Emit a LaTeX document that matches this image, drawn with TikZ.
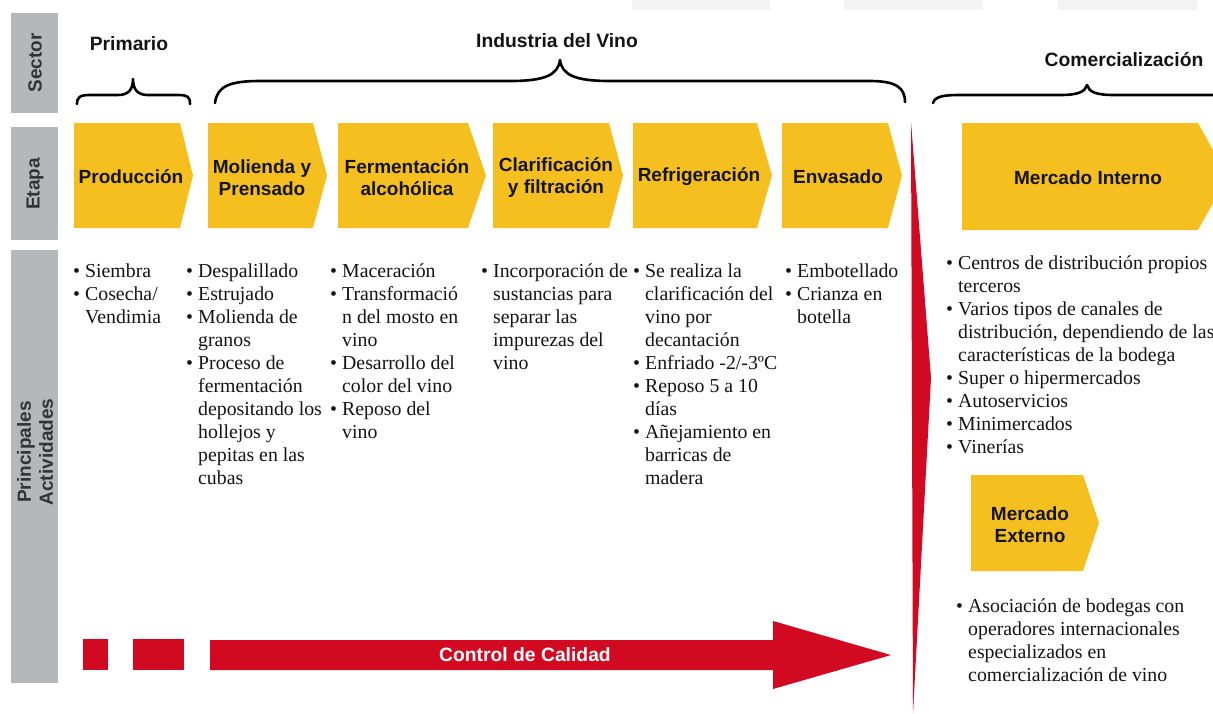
\documentclass[tikz,border=0pt]{standalone}
\usepackage{fontspec}
\setmainfont{Liberation Serif}
\newfontfamily\hsans{Liberation Sans}
\definecolor{chevy}{HTML}{F5BF1F}
\definecolor{redc}{HTML}{D10A22}
\definecolor{sidegray}{HTML}{B5B7B9}
\definecolor{ink}{HTML}{141414}
\definecolor{sideink}{HTML}{333333}
\definecolor{faint}{HTML}{F3F3F3}
\newcommand\bul{\makebox[12pt][l]{\textbullet}}
\newcommand\ind{\hspace*{12pt}}
\begin{document}
\begin{tikzpicture}[x=1pt,y=-1pt,
  chev/.style={fill=chevy, draw=none},
  chevtext/.style={font=\hsans\bfseries\fontsize{19}{22}\selectfont, text=ink, align=center, inner sep=0},
  sidetext/.style={font=\hsans\bfseries\fontsize{19}{22}\selectfont, text=sideink, rotate=90, align=center, inner sep=0},
  acts/.style={font=\fontsize{19.8}{23}\selectfont, text=ink, align=left, anchor=north west, inner sep=0},
  brace/.style={draw=black, line width=2.6pt, line cap=round, line join=round},
  sectortext/.style={font=\hsans\bfseries\fontsize{19.3}{22}\selectfont, text=ink, inner sep=0}]
\useasboundingbox (0,0) rectangle (1213,713);
\fill[white] (0,0) rectangle (1213,713);
% faint top marks
\fill[faint] (632,0) rectangle (770,10);
\fill[faint] (844,0) rectangle (983,10);
\fill[faint] (1058,0) rectangle (1197,10);
% side bars
\fill[sidegray] (11,13) rectangle (58,113);
\fill[sidegray] (11,127) rectangle (58,240);
\fill[sidegray] (11,250) rectangle (58,683);
\node[sidetext] (lsector) at (35,63) {Sector};
\node[sidetext] (letapa) at (35,184) {Etapa};
\node[sidetext] (lact) at (35,452) {Principales\\Actividades};
% sector headings
\node[sectortext] (primario) at (129,44) {Primario};
\node[sectortext] (industria) at (557,41) {Industria del Vino};
\node[sectortext] (comercial) at (1124,60) {Comercialización};
% braces
\draw[brace] (77,104) .. controls (77,97) and (80,95) .. (90,95) -- (118,95) .. controls (128,95) and (133,90) .. (133,79) .. controls (133,90) and (138,95) .. (148,95) -- (178,95) .. controls (188,95) and (190,97) .. (190,104);
\draw[brace] (215,103) .. controls (217,86) and (230,81) .. (260,81) -- (510,81) .. controls (545,81) and (558,75) .. (560,60) .. controls (562,75) and (575,81) .. (610,81) -- (870,81) .. controls (895,81) and (905,87) .. (905,102);
\draw[brace] (933,103) .. controls (935,96) and (945,95) .. (960,95) -- (1060,95) .. controls (1078,95) and (1085,92) .. (1087,85) .. controls (1089,92) and (1096,95) .. (1114,95) -- (1216,95);
% chevrons
\path[chev] (74,123) -- (180,123) -- (193,175.5) -- (180,228) -- (74,228) -- cycle;
\path[chev] (208,123) -- (313,123) -- (327,175.5) -- (313,228) -- (208,228) -- cycle;
\path[chev] (338,123) -- (468,123) -- (486,175.5) -- (468,228) -- (338,228) -- cycle;
\path[chev] (493,123) -- (609,123) -- (623,175.5) -- (609,228) -- (493,228) -- cycle;
\path[chev] (633,123) -- (757,123) -- (772,175.5) -- (757,228) -- (633,228) -- cycle;
\path[chev] (782,123) -- (888,123) -- (902,175.5) -- (888,228) -- (782,228) -- cycle;
\path[chev] (962,123) -- (1198,123) -- (1228,176.5) -- (1198,230) -- (962,230) -- cycle;
\path[chev] (971,475) -- (1083,475) -- (1099,523) -- (1083,571) -- (971,571) -- cycle;
\node[chevtext] (produccion) at (131,177) {Producción};
\node[chevtext] (molienda) at (262,177.5) {Molienda y\\Prensado};
\node[chevtext] (fermentacion) at (407,177.5) {Fermentación\\alcohólica};
\node[chevtext] (clarificacion) at (556,177.5) {Clarificación\\y filtración};
\node[chevtext] (refrigeracion) at (699,177) {Refrigeración};
\node[chevtext] (envasado) at (838,177) {Envasado};
\node[chevtext] (minterno) at (1088,178) {Mercado Interno};
\node[chevtext] (mexterno) at (1030,524.5) {Mercado\\Externo};
% activities
\node[acts] (a1) at (73,260.9) {\strut\bul Siembra\\ \bul Cosecha/\\ \ind Vendimia};
\node[acts] (a2) at (186,260.9) {\strut\bul Despalillado\\ \bul Estrujado\\ \bul Molienda de\\ \ind granos\\ \bul Proceso de\\ \ind fermentación\\ \ind depositando los\\ \ind hollejos y\\ \ind pepitas en las\\ \ind cubas};
\node[acts] (a3) at (330,260.9) {\strut\bul Maceración\\ \bul Transformació\\ \ind n del mosto en\\ \ind vino\\ \bul Desarrollo del\\ \ind color del vino\\ \bul Reposo del\\ \ind vino};
\node[acts] (a4) at (481,260.9) {\strut\bul Incorporación de\\ \ind sustancias para\\ \ind separar las\\ \ind impurezas del\\ \ind vino};
\node[acts] (a5) at (633,260.9) {\strut\bul Se realiza la\\ \ind clarificación del\\ \ind vino por\\ \ind decantación\\ \bul Enfriado -2/-3ºC\\ \bul Reposo 5 a 10\\ \ind días\\ \bul Añejamiento en\\ \ind barricas de\\ \ind madera};
\node[acts] (a6) at (785,260.9) {\strut\bul Embotellado\\ \bul Crianza en\\ \ind botella};
\node[acts] (a7) at (946,252.9) {\strut\bul Centros de distribución propios\\ \ind terceros\\ \bul Varios tipos de canales de\\ \ind distribución, dependiendo de las\\ \ind características de la bodega\\ \bul Super o hipermercados\\ \bul Autoservicios\\ \bul Minimercados\\ \bul Vinerías};
\node[acts] (a8) at (956,595.9) {\strut\bul Asociación de bodegas con\\ \ind operadores internacionales\\ \ind especializados en\\ \ind comercialización de vino};
% red divider wedge
\fill[redc] (911,122) -- (931,378) -- (913,713) -- cycle;
% quality control arrow
\fill[redc] (83,639) rectangle (108,670);
\fill[redc] (133,639) rectangle (184,670);
\fill[redc] (210,640) -- (773,640) -- (773,621) -- (891,655) -- (773,689) -- (773,670) -- (210,670) -- cycle;
\node[font=\hsans\bfseries\fontsize{19.3}{22}\selectfont, text=white, inner sep=0] (calidad) at (525,655) {Control de Calidad};
\end{tikzpicture}
\end{document}
